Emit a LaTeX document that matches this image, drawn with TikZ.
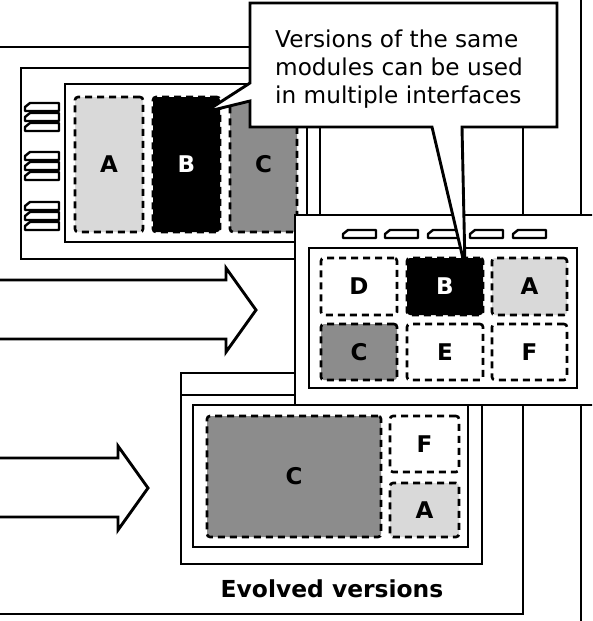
\documentclass[tikz,border=0pt]{standalone}
\usepackage{fontspec}
\setmainfont{DejaVu Sans}
\definecolor{lightg}{RGB}{217,217,217}
\definecolor{midg}{RGB}{140,140,140}
\newcommand\modbox[8]{%
  \node[module,fill=#6,text=#8,minimum width={#4-#2},minimum height={#5-#3}]
    (#1) at ({(#2+#4)/2},{(#3+#5)/2}) {#7};}
\newcommand\hbtn[3]{%
  \draw[btn] (#1,#2+8) -- (#1,#2+4) -- (#1+5,#2) -- (#1+#3,#2) -- (#1+#3,#2+8) -- cycle;}
\begin{document}
\begin{tikzpicture}[x=1pt,y=-1pt,
  frame/.style={draw=black,line width=2.9pt},
  box/.style={draw=black,fill=white,line width=2.9pt},
  module/.style={draw=black,line width=2.6pt,dash pattern=on 7pt off 5pt,
    rounded corners=3pt,font=\bfseries\fontsize{23}{26}\selectfont,inner sep=0pt},
  btn/.style={draw=black,fill=white,line width=2.4pt,line join=round},
  blockarrow/.style={draw=black,fill=white,line width=2.9pt,line join=miter},
  lbl/.style={font=\fontsize{23.2}{28}\selectfont,anchor=base west,inner sep=0pt}
]
\useasboundingbox (0,0) rectangle (592,621);
\clip (0,0) rectangle (592,621);

% background frames
\draw[frame] (581,-10) -- (581,631);
\draw[frame] (-10,47) -- (523,47) -- (523,614) -- (-10,614);

% block arrows
\draw[blockarrow] (-10,280) -- (226,280) -- (226,268) -- (256,310) -- (226,352) -- (226,339) -- (-10,339);
\draw[blockarrow] (-10,458) -- (118,458) -- (118,446) -- (148,488) -- (118,530) -- (118,517) -- (-10,517);

% device 1
\draw[box] (21,68) rectangle (320,259);
\draw[box] (65,84) rectangle (307,242);
\foreach \yy in {103,113,123,152,162,172,202,212,222} {\hbtn{25}{\yy}{34}}
\modbox{d1a}{75}{97}{143}{232}{lightg}{A}{black}
\modbox{d1b}{153}{97}{220}{232}{black}{B}{white}
\modbox{d1c}{230}{97}{297}{232}{midg}{C}{black}

% device 3 (evolved)
\draw[box] (181,373) rectangle (482,564);
\draw[frame] (181,395) -- (482,395);
\draw[box] (193,405) rectangle (468,547);
\modbox{d3c}{207}{416}{381}{537}{midg}{C}{black}
\modbox{d3f}{390}{416}{459}{472}{white}{F}{black}
\modbox{d3a}{390}{483}{459}{537}{lightg}{A}{black}
\node[font=\bfseries\fontsize{23.4}{28}\selectfont,anchor=base,inner sep=0pt] (evolved) at (332,597) {Evolved versions};

% middle device
\draw[box] (295,215) rectangle (620,405);
\draw[box] (309,248) rectangle (577,388);
\foreach \xx in {343,385,428,470,513} {\hbtn{\xx}{230}{33}}
\modbox{d2d}{321}{258}{397}{315}{white}{D}{black}
\modbox{d2b}{407}{258}{483}{315}{black}{B}{white}
\modbox{d2a}{492}{258}{567}{315}{lightg}{A}{black}
\modbox{d2c}{321}{324}{397}{380}{midg}{C}{black}
\modbox{d2e}{407}{324}{483}{380}{white}{E}{black}
\modbox{d2f}{492}{324}{567}{380}{white}{F}{black}

% callout
\draw[box,line join=miter] (250,3) -- (557,3) -- (557,127) -- (462,127) -- (465,267) -- (432,127)
  -- (250,127) -- (250,101) -- (205,112) -- (250,83) -- cycle;
\node[lbl] (c1) at (275,47) {Versions of the same};
\node[lbl] (c2) at (275,75) {modules can be used};
\node[lbl] (c3) at (275,103) {in multiple interfaces};
\end{tikzpicture}
\end{document}
